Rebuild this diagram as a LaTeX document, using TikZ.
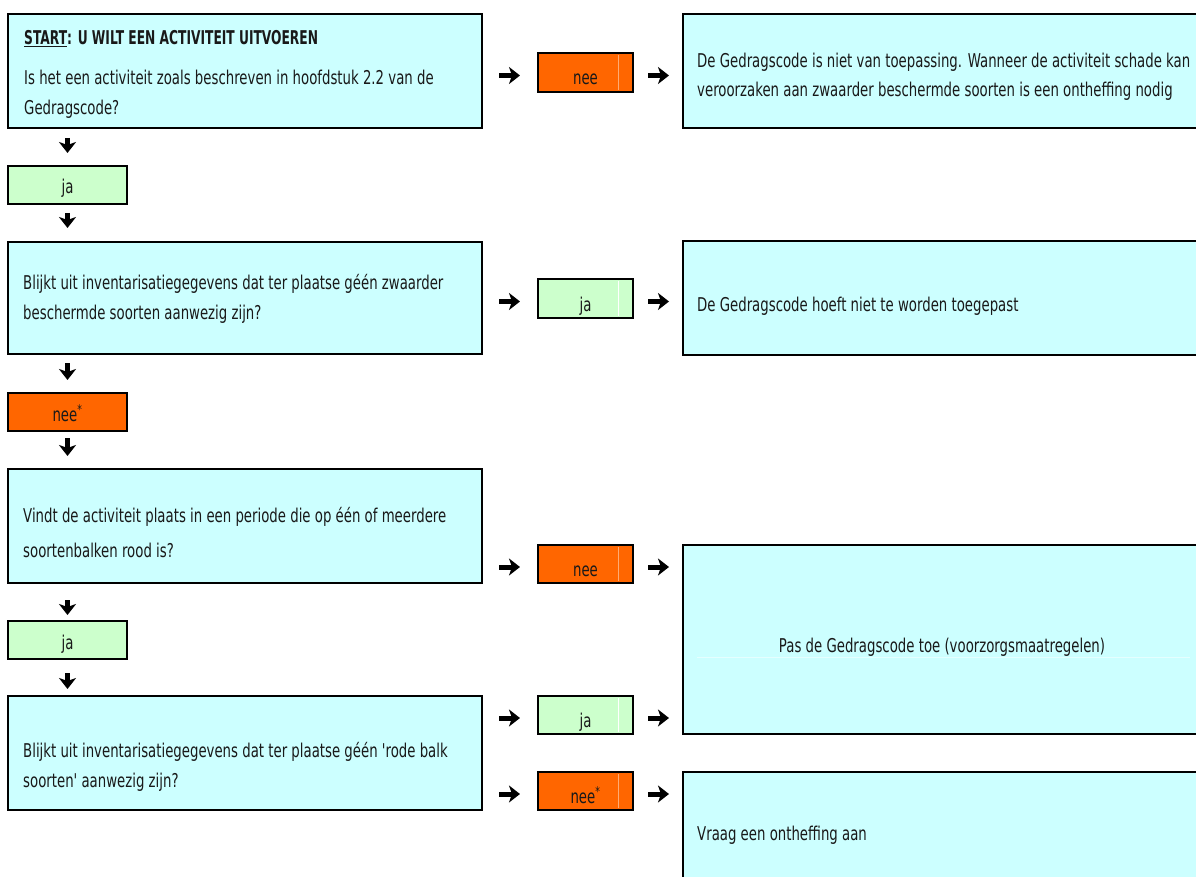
\documentclass[tikz,border=0pt]{standalone}
\usepackage{fontspec}
\setmainfont{DejaVu Sans}[FakeStretch=0.70, BoldFeatures={FakeStretch=0.645}]
\newfontfamily\plainq{DejaVu Sans}[FakeStretch=0.70]
\newcommand{\sq}{{\plainq\symbol{39}}}
\usetikzlibrary{arrows.meta}
\definecolor{qcyan}{HTML}{CCFFFF}
\definecolor{agreen}{HTML}{CCFFCC}
\definecolor{aorange}{HTML}{FF6600}
\begin{document}
\begin{tikzpicture}[x=1pt,y=-1pt,
  box/.style={draw, line width=2pt, inner sep=0pt, outer sep=0pt, anchor=north west, rectangle},
  qbox/.style={box, fill=qcyan},
  gbox/.style={box, fill=agreen},
  obox/.style={box, fill=aorange},
  txt/.style={inner sep=0pt, anchor=base west, font=\fontsize{19}{22}\selectfont, text=black!90},
  lbl/.style={inner sep=0pt, anchor=base, font=\fontsize{19}{22}\selectfont, text=black!90},
  arr/.style={line width=5pt, -{Stealth[length=11pt,width=17pt,inset=3pt]}},
  grid/.style={line width=0.8pt}
]
\useasboundingbox (0,0) rectangle (1196,877);
\clip (0,0) rectangle (1196,877);

% boxes
\node[qbox, minimum width=474, minimum height=114] (q1) at (8,14) {};
\node[qbox, minimum width=520, minimum height=114] (r1) at (683,14) {};
\node[obox, minimum width=95, minimum height=39] (n1) at (538,53) {};
\node[gbox, minimum width=119, minimum height=38] (j1) at (8,166) {};
\node[qbox, minimum width=474, minimum height=112] (q2) at (8,242) {};
\node[gbox, minimum width=95, minimum height=39] (j2) at (538,279) {};
\node[qbox, minimum width=520, minimum height=114] (r2) at (683,241) {};
\node[obox, minimum width=119, minimum height=38] (n2) at (8,393) {};
\node[qbox, minimum width=474, minimum height=114] (q3) at (8,469) {};
\node[obox, minimum width=95, minimum height=38] (n3) at (538,545) {};
\node[qbox, minimum width=520, minimum height=189] (r3) at (683,545) {};
\node[gbox, minimum width=119, minimum height=38] (j3) at (8,621) {};
\node[qbox, minimum width=474, minimum height=114] (q4) at (8,696) {};
\node[gbox, minimum width=95, minimum height=38] (j4) at (538,696) {};
\node[obox, minimum width=95, minimum height=38] (n4) at (538,772) {};
\node[qbox, minimum width=520, minimum height=130] (r4) at (683,772) {};

% faint grid-line traces inside boxes
\draw[grid, white!45!aorange] (618,55) -- (618,90);
\draw[grid, white] (618,281) -- (618,316);
\draw[grid, white!45!aorange] (618,547) -- (618,581);
\draw[grid, white] (618,698) -- (618,732);
\draw[grid, white!45!aorange] (618,774) -- (618,808);
\draw[grid, white!50!qcyan] (697,657) -- (1190,657);

% texts
\node[txt] (t1a) at (24,45) {\textbf{\underline{START}: U WILT EEN ACTIVITEIT UITVOEREN}};
\node[txt] (t1b) at (24,85) {Is het een activiteit zoals beschreven in hoofdstuk 2.2 van de};
\node[txt] (t1c) at (24,115) {Gedragscode?};
\node[txt] (tr1a) at (697,68) {De Gedragscode is niet van toepassing. Wanneer de activiteit schade kan};
\node[txt] (tr1b) at (697,97) {veroorzaken aan zwaarder beschermde soorten is een ontheffing nodig};
\node[txt] (t2a) at (23,289) {Blijkt uit inventarisatiegegevens dat ter plaatse géén zwaarder};
\node[txt] (t2b) at (23,319) {beschermde soorten aanwezig zijn?};
\node[txt] (tr2) at (697,311) {De Gedragscode hoeft niet te worden toegepast};
\node[txt] (t3a) at (23,522) {Vindt de activiteit plaats in een periode die op één of meerdere};
\node[txt] (t3b) at (23,557) {soortenbalken rood is?};
\node[lbl] (tr3) at (942,652) {Pas de Gedragscode toe (voorzorgsmaatregelen)};
\node[txt] (t4a) at (23,757) {Blijkt uit inventarisatiegegevens dat ter plaatse géén \sq rode balk};
\node[txt] (t4b) at (23,787) {soorten\sq\ aanwezig zijn?};
\node[txt] (tr4) at (697,840) {Vraag een ontheffing aan};

\node[lbl] at ([yshift=7pt]n1.south) {nee};
\node[lbl] at ([yshift=10pt]j1.south) {ja};
\node[lbl] at ([yshift=7pt]j2.south) {ja};
\node[lbl] at ([yshift=10pt]n2.south) {nee\textsuperscript{*}};
\node[lbl] at ([yshift=7pt]n3.south) {nee};
\node[lbl] at ([yshift=10pt]j3.south) {ja};
\node[lbl] at ([yshift=7pt]j4.south) {ja};
\node[lbl] at ([yshift=7pt]n4.south) {nee\textsuperscript{*}};

% horizontal arrows
\draw[arr, shorten <=17pt, shorten >=18pt] ([yshift=-3pt]q1.east |- n1) -- ([yshift=-3pt]n1.west);
\draw[arr, shorten <=15pt, shorten >=14pt] ([yshift=-3pt]n1.east) -- ([yshift=-3pt]n1 -| r1.west);
\draw[arr, shorten <=17pt, shorten >=18pt] ([yshift=-3pt]q2.east |- j2) -- ([yshift=-3pt]j2.west);
\draw[arr, shorten <=15pt, shorten >=14pt] ([yshift=-3pt]j2.east) -- ([yshift=-3pt]j2 -| r2.west);
\draw[arr, shorten <=17pt, shorten >=18pt] ([yshift=-3pt]q3.east |- n3) -- ([yshift=-3pt]n3.west);
\draw[arr, shorten <=15pt, shorten >=14pt] ([yshift=-3pt]n3.east) -- ([yshift=-3pt]n3 -| r3.west);
\draw[arr, shorten <=17pt, shorten >=18pt] ([yshift=-3pt]q4.east |- j4) -- ([yshift=-3pt]j4.west);
\draw[arr, shorten <=15pt, shorten >=14pt] ([yshift=-3pt]j4.east) -- ([yshift=-3pt]j4 -| r3.west);
\draw[arr, shorten <=17pt, shorten >=18pt] ([yshift=-3pt]q4.east |- n4) -- ([yshift=-3pt]n4.west);
\draw[arr, shorten <=15pt, shorten >=14pt] ([yshift=-3pt]n4.east) -- ([yshift=-3pt]n4 -| r4.west);

% vertical arrows
\draw[arr, shorten <=10pt, shorten >=13pt] (q1.south -| j1) -- (j1.north);
\draw[arr, shorten <=9pt, shorten >=14pt] (j1.south) -- (j1 |- q2.north);
\draw[arr, shorten <=9pt, shorten >=13pt] (q2.south -| n2) -- (n2.north);
\draw[arr, shorten <=7pt, shorten >=13pt] (n2.south) -- (n2 |- q3.north);
\draw[arr, shorten <=17pt, shorten >=6pt] (q3.south -| j3) -- (j3.north);
\draw[arr, shorten <=14pt, shorten >=7pt] (j3.south) -- (j3 |- q4.north);
\end{tikzpicture}
\end{document}
